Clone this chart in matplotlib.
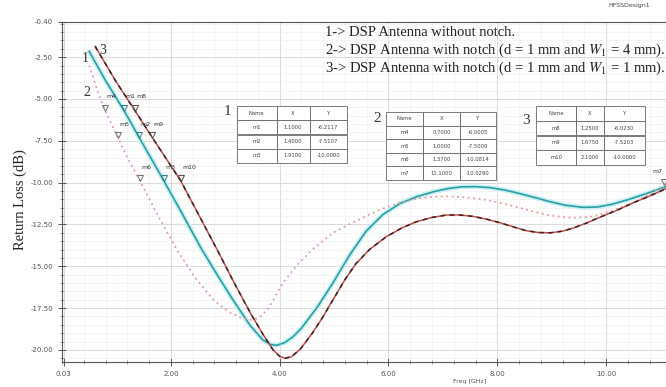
import numpy as np
import matplotlib
matplotlib.use("Agg")
import matplotlib.pyplot as plt
from matplotlib.ticker import MultipleLocator

plt.rcParams['mathtext.fontset'] = 'stix'

# curve 1 : without notch (solid teal)
f1 = [0.50, 0.80, 1.14, 1.42, 1.87, 2.20, 2.54, 2.85, 3.14, 3.45, 3.69, 3.84,
      3.95, 4.10, 4.25, 4.40, 4.70, 4.98, 5.29, 5.59, 5.90, 6.21, 6.51, 6.82,
      7.10, 7.35, 7.60, 7.87, 8.15, 8.42, 8.70, 8.97, 9.25, 9.58, 9.85, 10.10,
      10.40, 10.70, 11.10]
s1 = [-2.16, -3.90, -5.69, -7.31, -9.88, -11.80, -13.83, -15.50, -17.00, -18.50,
      -19.40, -19.68, -19.72, -19.55, -19.20, -18.70, -17.40, -15.99, -14.30,
      -12.90, -11.90, -11.25, -10.85, -10.55, -10.35, -10.25, -10.24, -10.30,
      -10.45, -10.66, -10.90, -11.14, -11.35, -11.48, -11.45, -11.30, -11.02,
      -10.70, -10.24]

# curve 2 : notch d = 1 mm, W1 = 4 mm (pink dotted)
f2 = [0.50, 0.64, 0.79, 1.03, 1.20, 1.43, 1.49, 1.80, 2.11, 2.45, 2.78, 3.05,
      3.27, 3.46, 3.62, 3.80, 4.06, 4.30, 4.60, 4.98, 5.30, 5.59, 5.90, 6.21,
      6.52, 6.82, 7.10, 7.43, 7.75, 8.05, 8.35, 8.66, 8.95, 9.26, 9.50, 9.76,
      10.10, 10.50, 10.80, 11.10]
s2 = [-3.00, -4.40, -5.69, -7.31, -8.50, -9.88, -10.25, -12.20, -14.00, -15.70,
      -17.00, -17.70, -18.05, -18.20, -18.10, -17.50, -16.00, -15.00, -14.00,
      -13.00, -12.45, -12.00, -11.55, -11.20, -10.95, -10.84, -10.82, -10.88,
      -11.00, -11.20, -11.45, -11.72, -11.95, -12.08, -12.10, -12.02, -11.70,
      -11.20, -10.70, -10.10]

# curve 3 : notch d = 1 mm, W1 = 1 mm (dark/red dashed)
f3 = [0.61, 1.00, 1.34, 1.66, 2.18, 2.50, 2.85, 3.15, 3.46, 3.70, 3.88, 4.00,
      4.10, 4.22, 4.38, 4.60, 4.80, 4.98, 5.20, 5.40, 5.65, 5.96, 6.25, 6.51,
      6.80, 7.06, 7.30, 7.56, 7.80, 8.05, 8.30, 8.53, 8.75, 8.97, 9.20, 9.39,
      9.65, 9.89, 10.20, 10.50, 10.80, 11.10]
s3 = [-1.86, -4.00, -5.69, -7.31, -9.88, -11.85, -14.00, -15.90, -17.78, -19.10,
      -20.00, -20.38, -20.50, -20.40, -19.95, -19.00, -18.00, -17.00, -15.80,
      -14.85, -14.00, -13.23, -12.70, -12.34, -12.08, -11.94, -11.93, -12.02,
      -12.18, -12.40, -12.65, -12.87, -12.98, -13.00, -12.90, -12.72, -12.40,
      -12.06, -11.65, -11.20, -10.80, -10.36]

# marker positions as seen on the plot
m_curve1 = {"m1": 1.14, "m2": 1.42, "m3": 1.87}
m_curve2 = {"m4": 0.79, "m5": 1.03, "m6": 1.43, "m7": 11.07}
m_curve3 = {"m8": 1.34, "m9": 1.66, "m10": 2.18}

# marker tables (as printed)
tab1 = [["m1", "1.1000", "-6.2117"], ["m2", "1.4000", "-7.5107"],
        ["m3", "1.9100", "-10.0000"]]
tab2 = [["m4", "0.7000", "-6.0005"], ["m5", "1.0000", "-7.5009"],
        ["m6", "1.3700", "-10.0814"], ["m7", "11.1000", "-10.0290"]]
tab3 = [["m8", "1.2500", "-6.0230"], ["m9", "1.6750", "-7.5203"],
        ["m10", "2.1000", "-10.0000"]]

legend_lines = ["1-> DSP Antenna without notch.",
                "2-> DSP Antenna with notch (d = 1 mm and $W_1$ = 4 mm).",
                "3-> DSP Antenna with notch (d = 1 mm and $W_1$ = 1 mm)."]

W, H = 666, 387
fig = plt.figure(figsize=(6.66, 3.87), dpi=100)
ax = fig.add_axes([62 / W, 25 / H, 604 / W, 340 / H])

ax.set_xlim(0.0, 11.1)
ax.set_ylim(-20.72, -0.40)

ax.xaxis.set_minor_locator(MultipleLocator(0.4))
ax.yaxis.set_minor_locator(MultipleLocator(0.5))
ax.set_xticks([0.03, 2, 4, 6, 8, 10])
ax.set_xticklabels(["0.03", "2.00", "4.00", "6.00", "8.00", "10.00"])
yt = [-20, -17.5, -15, -12.5, -10, -7.5, -5, -2.5, -0.40]
ax.set_yticks(yt)
ax.set_yticklabels(["%.2f" % v for v in yt])
ax.tick_params(which='major', direction='inout', length=6, width=0.7,
               labelsize=5, labelcolor='#555555', color='#555555')
ax.tick_params(which='minor', direction='inout', length=3, width=0.5, color='#777777')

ax.grid(which='major', color='#d4d4d4', lw=0.6)
ax.grid(which='minor', color='#f0f0f0', lw=0.5)
ax.set_axisbelow(True)
for sp in ['left', 'bottom', 'top']:
    ax.spines[sp].set_color('#555555')
    ax.spines[sp].set_linewidth(0.8)
ax.spines['right'].set_visible(False)

# curves
ax.plot(f1, s1, color='#c9f1f4', lw=3.5, solid_capstyle='round')
ax.plot(f1, s1, color='#2a9ea3', lw=1.2)
ax.plot(f2, s2, color='#e59a9a', lw=1.3, ls=(0, (1, 2)))
ax.plot(f3, s3, color='#c84848', lw=1.1)
ax.plot(f3, s3, color='#3a2424', lw=1.1, ls=(0, (3, 3)))

# markers
for mk, fx, fy, col in [(m_curve1, f1, s1, '#2a7f84'),
                        (m_curve2, f2, s2, '#707070'),
                        (m_curve3, f3, s3, '#505050')]:
    for name, x in mk.items():
        y = np.interp(x, fx, fy)
        ax.plot(x, y + 0.18, marker='v', ms=4.5, mfc='none', mec=col, mew=0.7)
        if name == "m7":
            ax.annotate(name, (x, y), xytext=(-1, 8), textcoords='offset points',
                        fontsize=4.5, color='#333333', ha='right', va='bottom')
        else:
            ax.annotate(name, (x, y), xytext=(1, 8), textcoords='offset points',
                        fontsize=4.5, color='#333333', ha='left', va='bottom')

# curve labels
for txt, px, py in [("1", 85, 58), ("3", 103, 50), ("2", 87, 93)]:
    fig.text(px / W, 1 - py / H, txt, family='Liberation Serif', fontsize=10,
             ha='center', va='center', color='#333333')

# tables
def draw_table(rows, x0, y0, x1, y1, cw):
    t = ax.table(cellText=rows, colLabels=["Name", "X", "Y"], cellLoc='center',
                 colWidths=cw,
                 bbox=[(x0 - 62) / 604, (362 - y1) / 340,
                       (x1 - x0) / 604, (y1 - y0) / 340])
    t.auto_set_font_size(False)
    t.set_fontsize(3.8)
    for c in t.get_celld().values():
        c.set_edgecolor('#666666')
        c.set_linewidth(0.6)
        c.get_text().set_color('#444444')
    t.set_zorder(5)

draw_table(tab1, 237, 106, 347, 163, [0.36, 0.30, 0.34])
draw_table(tab2, 386, 112, 496, 180, [0.34, 0.33, 0.33])
draw_table(tab3, 536, 106, 645, 165, [0.37, 0.25, 0.38])
for txt, px, py in [("1", 227, 112), ("2", 377, 118), ("3", 526, 120)]:
    fig.text(px / W, 1 - py / H, txt, family='Liberation Serif', fontsize=11,
             ha='center', va='center', color='#333333')

# legend text
for i, line in enumerate(legend_lines):
    fig.text(325 / W, 1 - (32 + 18 * i) / H, line, family='Liberation Serif',
             fontsize=10.5, ha='left', va='center', color='#222222')

fig.text(650 / W, 1 - 6 / H, "HFSSDesign1", fontsize=4.5, ha='right',
         va='center', color='#444444')
fig.text(20 / W, 1 - 200 / H, "Return Loss (dB)", rotation=90,
         family='Liberation Serif', fontsize=10.5, ha='center', va='center',
         color='#222222')
fig.text(470 / W, 1 - 381 / H, "Freq [GHz]", fontsize=4.5, ha='center',
         va='center', color='#555555')

fig.savefig("out.png", dpi=100)
